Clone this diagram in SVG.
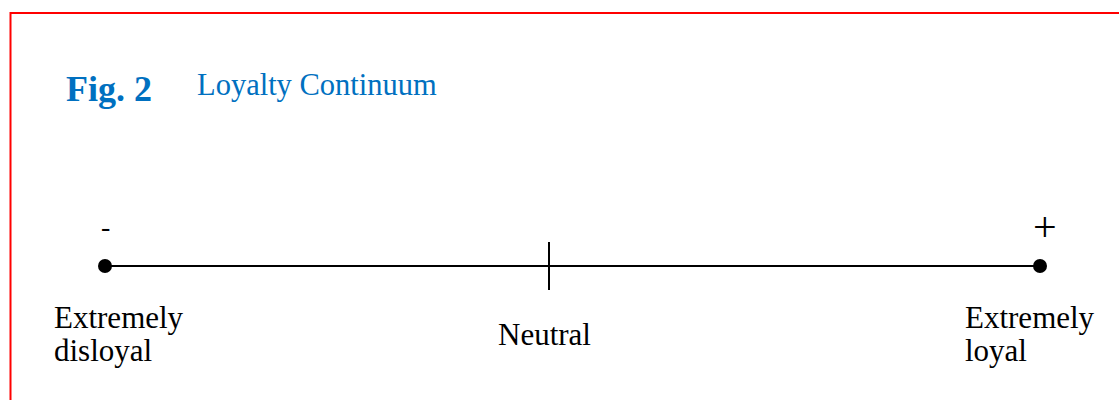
<svg xmlns="http://www.w3.org/2000/svg" width="1119" height="400" viewBox="0 0 1119 400">
<style>
.t{font-family:"Liberation Serif","Times New Roman",serif;font-size:31px;fill:#000}
.blue{fill:#0070C0}
.ln{stroke:#000;stroke-width:2;fill:none}
</style>
<rect x="0" y="0" width="1119" height="400" fill="#fff"/>
<rect x="10.5" y="13" width="1130" height="420" fill="none" stroke="#FF0000" stroke-width="2"/>
<g id="title">
<text x="66" y="101" class="t blue" style="font-weight:bold;font-size:36px">Fig. 2</text>
<text x="197" y="94.5" class="t blue" style="font-size:30.5px">Loyalty Continuum</text>
</g>
<g id="connectors">
<line x1="105" y1="266" x2="1040" y2="266" class="ln"/>
<line x1="549" y1="242" x2="549" y2="290" class="ln"/>
</g>
<g id="left-end">
<circle cx="105" cy="266" r="7" fill="#000"/>
<text x="101" y="236" class="t" style="font-size:28px">-</text>
<text x="54" y="328" class="t">Extremely</text>
<text x="54" y="361" class="t">disloyal</text>
</g>
<g id="neutral">
<text x="498" y="345" class="t">Neutral</text>
</g>
<g id="right-end">
<circle cx="1040" cy="266" r="7" fill="#000"/>
<text x="1033" y="241" class="t" style="font-size:42px">+</text>
<text x="965" y="328" class="t">Extremely</text>
<text x="965" y="361" class="t">loyal</text>
</g>
</svg>
